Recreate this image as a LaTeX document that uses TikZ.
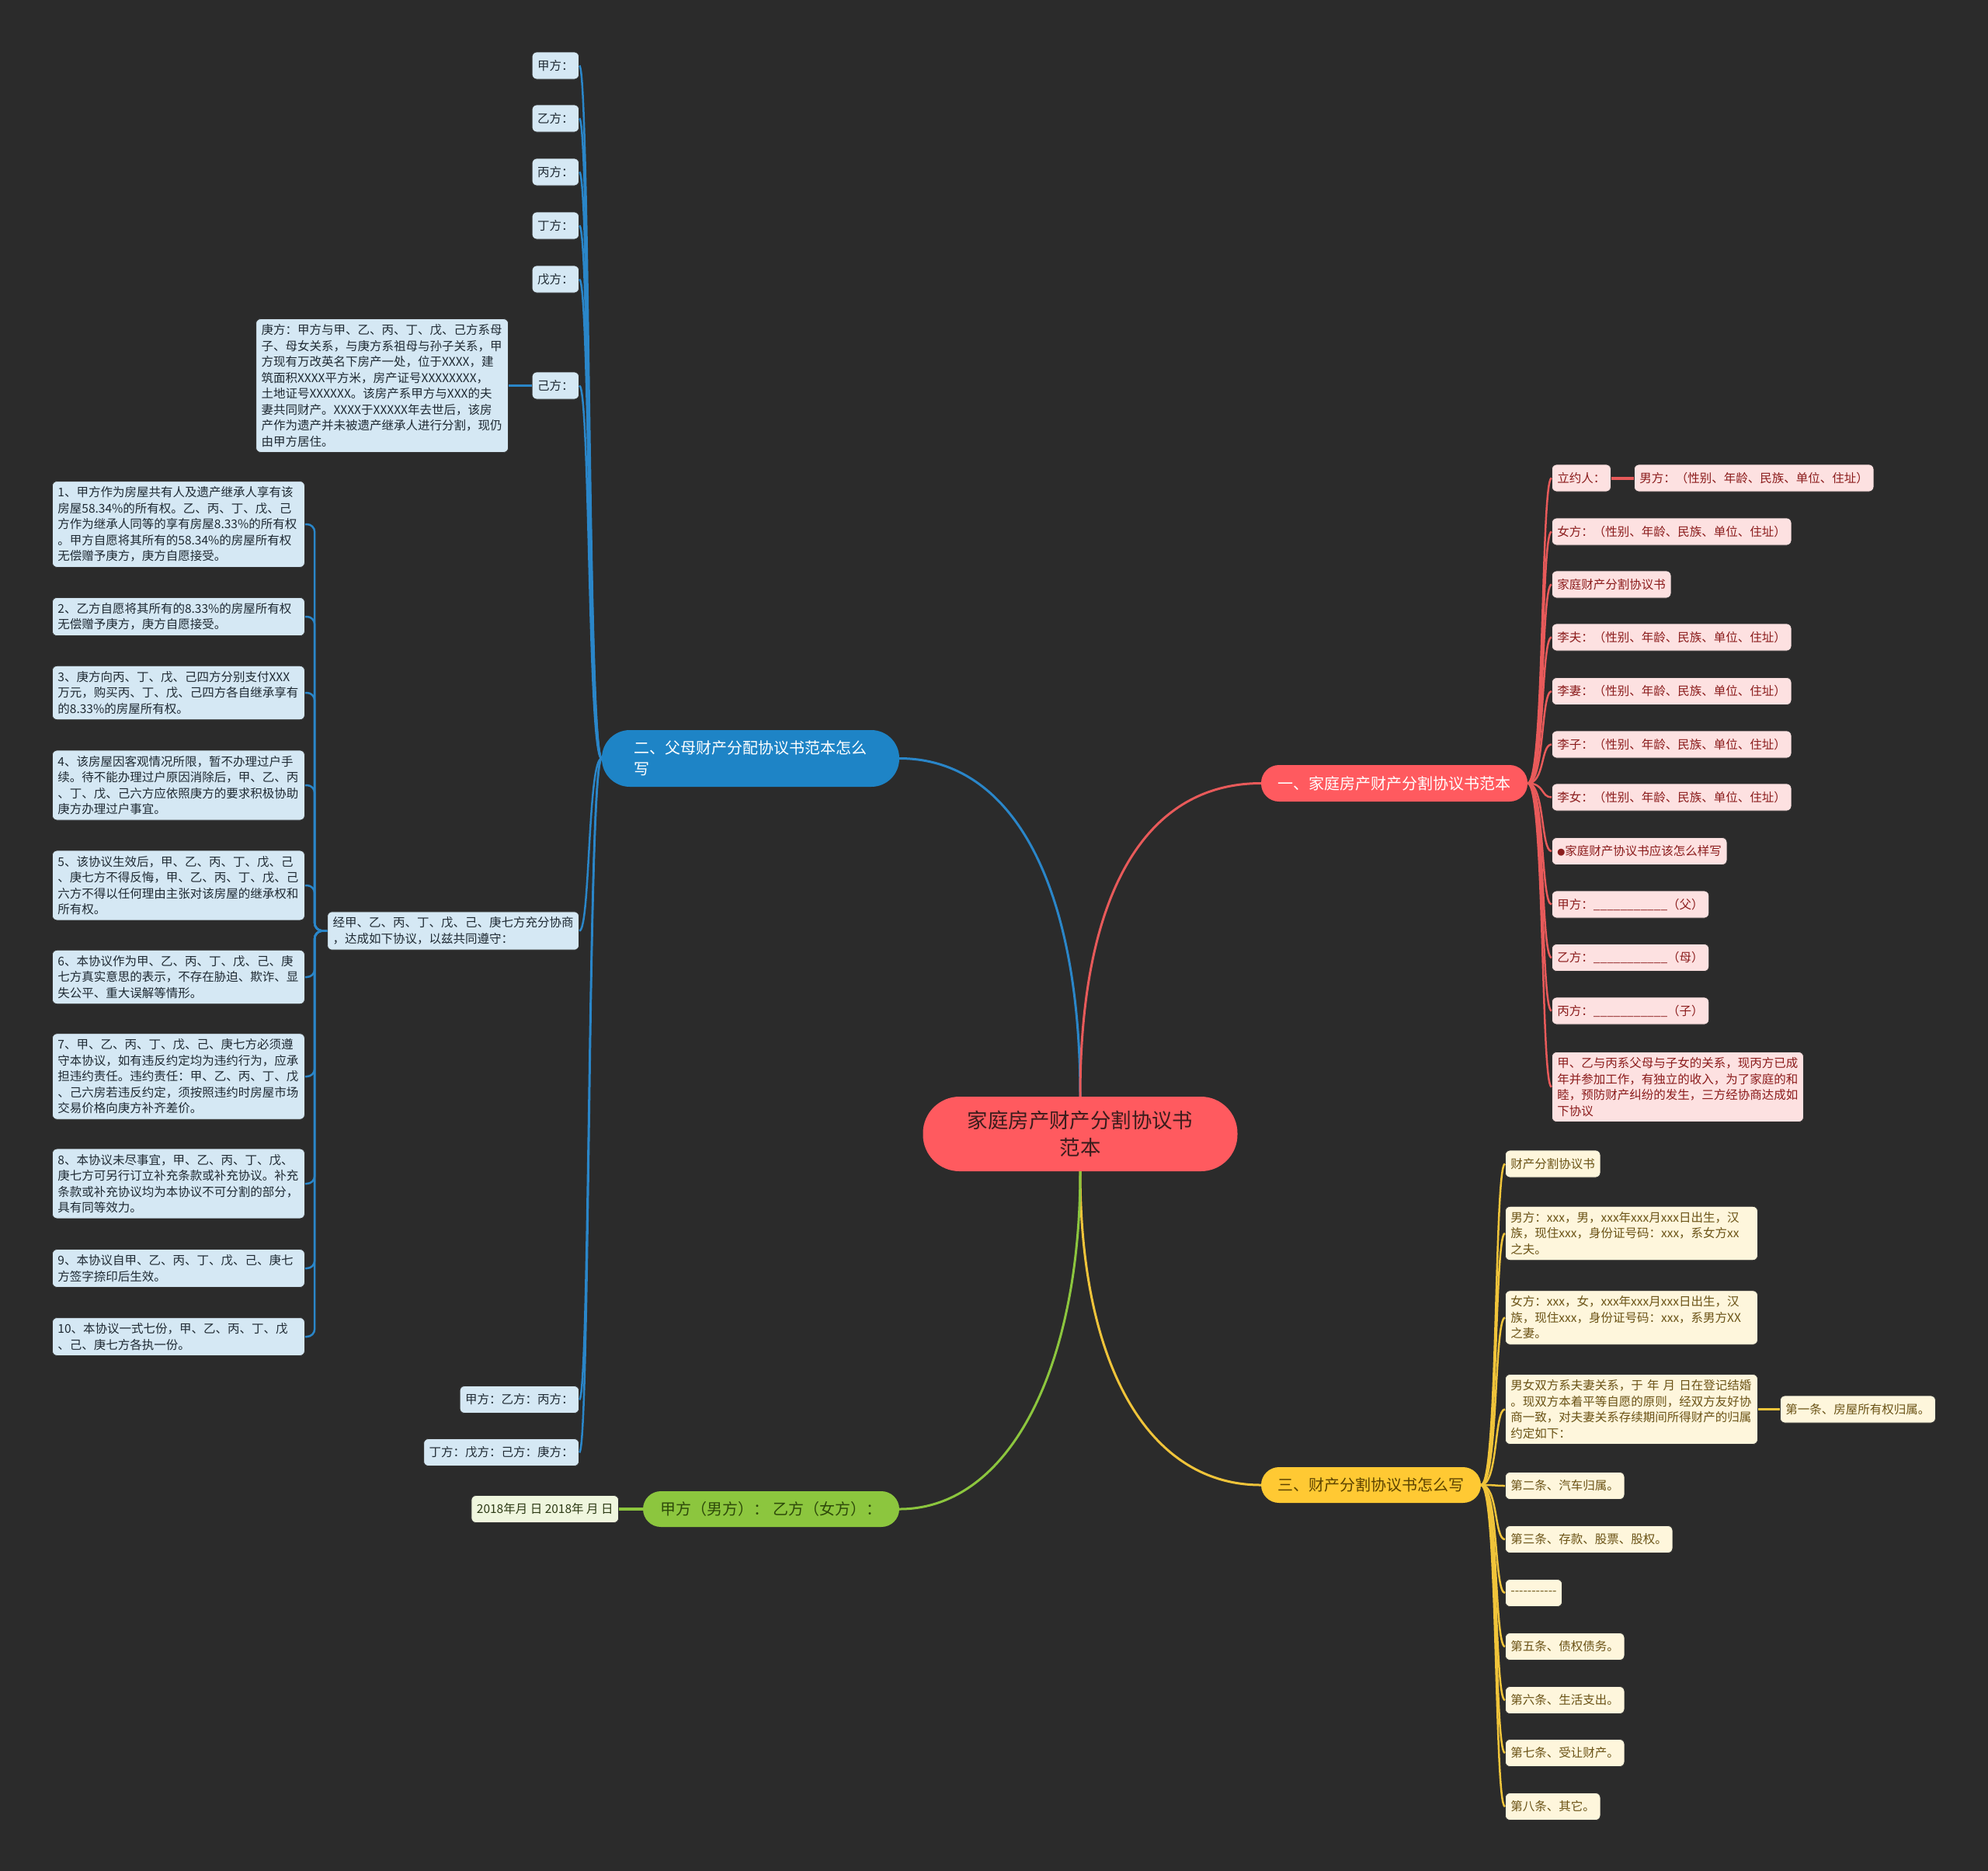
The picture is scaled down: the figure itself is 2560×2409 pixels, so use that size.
\documentclass[tikz,border=0pt]{standalone}
\usepackage{fontspec}
\setmainfont{Noto Sans CJK SC}
\definecolor{bgcol}{HTML}{2B2B2B}
\definecolor{rootfill}{HTML}{FF5A5F}
\definecolor{roottext}{HTML}{3A1C1C}
\definecolor{bluefill}{HTML}{1E84C6}
\definecolor{bluelinecol}{HTML}{2A86C9}
\definecolor{bleaffill}{HTML}{D5E8F4}
\definecolor{bleaftext}{HTML}{1F2A33}
\definecolor{redfill}{HTML}{FF5A5F}
\definecolor{redlinecol}{HTML}{E85A5A}
\definecolor{rleaffill}{HTML}{FDE1E1}
\definecolor{rleaftext}{HTML}{8B1C1C}
\definecolor{yellowfill}{HTML}{FFC933}
\definecolor{yellowtext}{HTML}{5C4300}
\definecolor{yellowlinecol}{HTML}{F0C43A}
\definecolor{yleaffill}{HTML}{FEF6DC}
\definecolor{yleaftext}{HTML}{6B5316}
\definecolor{greenfill}{HTML}{8CC63E}
\definecolor{greentext}{HTML}{2E4A0A}
\definecolor{gleaffill}{HTML}{EFF6DE}
\definecolor{gleaftext}{HTML}{2C3A14}
\begin{document}
\begin{tikzpicture}[x=1pt,y=-1pt,
        root/.style={rectangle, rounded corners=47pt, fill=rootfill, text=roottext, minimum width=405pt, minimum height=96pt, align=center, font=\fontsize{26.4}{35}\selectfont},
        branch/.style={rectangle, rounded corners=23pt, minimum height=46pt, align=center, font=\fontsize{20}{27}\selectfont},
        leaf/.style={rectangle, rounded corners=6pt, draw=black!80, line width=0.8pt, inner xsep=7pt, inner ysep=7pt, minimum height=35pt, align=left, font=\fontsize{15.5}{20.5}\selectfont},
        bleaf/.style={leaf, fill=bleaffill, text=bleaftext},
        rleaf/.style={leaf, fill=rleaffill, text=rleaftext},
        yleaf/.style={leaf, fill=yleaffill, text=yleaftext},
        gleaf/.style={leaf, fill=gleaffill, text=gleaftext},
        wide/.style={text width=311pt},
        mainlink/.style={line width=3pt},
        bluelink/.style={draw=bluelinecol, line width=2.5pt},
        redlink/.style={draw=redlinecol, line width=2.5pt},
        yellowlink/.style={draw=yellowlinecol, line width=2.5pt}
    ]
    \fill[bgcol] (0,0) rectangle (2560,2409);
    \useasboundingbox (0,0) rectangle (2560,2409);

    \node[root] (root) at (1391,1460) {家庭房产财产分割协议书\\范本};
    \node[branch, fill=bluefill, text=white, minimum width=383pt, minimum height=73pt, rounded corners=36pt, text width=300pt, align=left] (blue) at (966.5,976.5) {二、父母财产分配协议书范本怎么\\写};
    \node[branch, fill=redfill, text=white, minimum width=343pt, minimum height=47pt] (red) at (1795.5,1008.5) {一、家庭房产财产分割协议书范本};
    \node[branch, fill=yellowfill, text=yellowtext, minimum width=283pt] (yellow) at (1765.5,1912) {三、财产分割协议书怎么写};
    \node[branch, fill=greenfill, text=greentext, minimum width=330pt] (green) at (993,1943) {甲方（男方）： 乙方（女方）：};

    \node[bleaf, anchor=east] (b1) at (746,84.5) {甲方：};
    \node[bleaf, anchor=east] (b2) at (746,152.5) {乙方：};
    \node[bleaf, anchor=east] (b3) at (746,221.5) {丙方：};
    \node[bleaf, anchor=east] (b4) at (746,290.5) {丁方：};
    \node[bleaf, anchor=east] (b5) at (746,359.5) {戊方：};
    \node[bleaf, anchor=east] (b6) at (746,496.5) {己方：};
    \node[bleaf, wide, anchor=east] (bg) at (655,496.5) {庚方：甲方与甲、乙、丙、丁、戊、己方系母\\子、母女关系，与庚方系祖母与孙子关系，甲\\方现有万改英名下房产一处，位于XXXX，建\\筑面积XXXX平方米，房产证号XXXXXXXX，\\土地证号XXXXXX。该房产系甲方与XXX的夫\\妻共同财产。XXXX于XXXXX年去世后，该房\\产作为遗产并未被遗产继承人进行分割，现仍\\由甲方居住。};
    \node[bleaf, anchor=east] (bj) at (746,1198.5) {经甲、乙、丙、丁、戊、己、庚七方充分协商\\，达成如下协议，以兹共同遵守：};
    \node[bleaf, anchor=east] (bk1) at (746,1802) {甲方：乙方：丙方：};
    \node[bleaf, anchor=east] (bk2) at (746,1870) {丁方：戊方：己方：庚方：};

    \node[bleaf, wide, anchor=west] (n1) at (67,675) {1、甲方作为房屋共有人及遗产继承人享有该\\房屋58.34\%的所有权。乙、丙、丁、戊、己\\方作为继承人同等的享有房屋8.33\%的所有权\\。甲方自愿将其所有的58.34\%的房屋所有权\\无偿赠予庚方，庚方自愿接受。};
    \node[bleaf, wide, anchor=west] (n2) at (67,794) {2、乙方自愿将其所有的8.33\%的房屋所有权\\无偿赠予庚方，庚方自愿接受。};
    \node[bleaf, wide, anchor=west] (n3) at (67,892) {3、庚方向丙、丁、戊、己四方分别支付XXX\\万元，购买丙、丁、戊、己四方各自继承享有\\的8.33\%的房屋所有权。};
    \node[bleaf, wide, anchor=west] (n4) at (67,1011) {4、该房屋因客观情况所限，暂不办理过户手\\续。待不能办理过户原因消除后，甲、乙、丙\\、丁、戊、己六方应依照庚方的要求积极协助\\庚方办理过户事宜。};
    \node[bleaf, wide, anchor=west] (n5) at (67,1140) {5、该协议生效后，甲、乙、丙、丁、戊、己\\、庚七方不得反悔，甲、乙、丙、丁、戊、己\\六方不得以任何理由主张对该房屋的继承权和\\所有权。};
    \node[bleaf, wide, anchor=west] (n6) at (67,1258) {6、本协议作为甲、乙、丙、丁、戊、己、庚\\七方真实意思的表示，不存在胁迫、欺诈、显\\失公平、重大误解等情形。};
    \node[bleaf, wide, anchor=west] (n7) at (67,1386) {7、甲、乙、丙、丁、戊、己、庚七方必须遵\\守本协议，如有违反约定均为违约行为，应承\\担违约责任。违约责任：甲、乙、丙、丁、戊\\、己六房若违反约定，须按照违约时房屋市场\\交易价格向庚方补齐差价。};
    \node[bleaf, wide, anchor=west] (n8) at (67,1524) {8、本协议未尽事宜，甲、乙、丙、丁、戊、\\庚七方可另行订立补充条款或补充协议。补充\\条款或补充协议均为本协议不可分割的部分，\\具有同等效力。};
    \node[bleaf, wide, anchor=west] (n9) at (67,1633) {9、本协议自甲、乙、丙、丁、戊、己、庚七\\方签字捺印后生效。};
    \node[bleaf, wide, anchor=west] (n10) at (67,1721) {10、本协议一式七份，甲、乙、丙、丁、戊\\、己、庚七方各执一份。};

    \node[rleaf, anchor=west] (r1) at (1998,615.5) {立约人：};
    \node[rleaf, anchor=west] (r1b) at (2104,615.5) {男方：（性别、年龄、民族、单位、住址）};
    \node[rleaf, anchor=west] (r2) at (1998,684.5) {女方：（性别、年龄、民族、单位、住址）};
    \node[rleaf, anchor=west] (r3) at (1998,752.5) {家庭财产分割协议书};
    \node[rleaf, anchor=west] (r4) at (1998,820.5) {李夫：（性别、年龄、民族、单位、住址）};
    \node[rleaf, anchor=west] (r5) at (1998,890) {李妻：（性别、年龄、民族、单位、住址）};
    \node[rleaf, anchor=west] (r6) at (1998,958.5) {李子：（性别、年龄、民族、单位、住址）};
    \node[rleaf, anchor=west] (r7) at (1998,1026.5) {李女：（性别、年龄、民族、单位、住址）};
    \node[rleaf, anchor=west] (r8) at (1998,1096) {{\fontsize{10}{10}\selectfont ●}家庭财产协议书应该怎么样写};
    \node[rleaf, anchor=west] (r9) at (1998,1164.5) {甲方：\_\_\_\_\_\_\_\_\_\_\_（父）};
    \node[rleaf, anchor=west] (r10) at (1998,1233) {乙方：\_\_\_\_\_\_\_\_\_\_\_（母）};
    \node[rleaf, anchor=west] (r11) at (1998,1301.5) {丙方：\_\_\_\_\_\_\_\_\_\_\_（子）};
    \node[rleaf, anchor=west] (r12) at (1998,1399.5) {甲、乙与丙系父母与子女的关系，现丙方已成\\年并参加工作，有独立的收入，为了家庭的和\\睦，预防财产纠纷的发生，三方经协商达成如\\下协议};

    \node[yleaf, anchor=west] (y1) at (1938,1498.5) {财产分割协议书};
    \node[yleaf, wide, anchor=west] (y2) at (1938,1588) {男方：xxx，男，xxx年xxx月xxx日出生，汉\\族，现住xxx，身份证号码：xxx，系女方xx\\之夫。};
    \node[yleaf, wide, anchor=west] (y3) at (1938,1696.5) {女方：xxx，女，xxx年xxx月xxx日出生，汉\\族，现住xxx，身份证号码：xxx，系男方XX\\之妻。};
    \node[yleaf, wide, anchor=west] (y4) at (1938,1814.5) {男女双方系夫妻关系，于 年 月 日在登记结婚\\。现双方本着平等自愿的原则，经双方友好协\\商一致，对夫妻关系存续期间所得财产的归属\\约定如下：};
    \node[yleaf, anchor=west] (y4b) at (2292,1814.5) {第一条、房屋所有权归属。};
    \node[yleaf, anchor=west] (y5) at (1938,1913) {第二条、汽车归属。};
    \node[yleaf, anchor=west] (y6) at (1938,1982) {第三条、存款、股票、股权。};
    \node[yleaf, anchor=west] (y7) at (1938,2051) {{-}{-}{-}{-}{-}{-}{-}{-}{-}{-}{-}};
    \node[yleaf, anchor=west] (y8) at (1938,2120) {第五条、债权债务。};
    \node[yleaf, anchor=west] (y9) at (1938,2189) {第六条、生活支出。};
    \node[yleaf, anchor=west] (y10) at (1938,2257) {第七条、受让财产。};
    \node[yleaf, anchor=west] (y11) at (1938,2326) {第八条、其它。};

    \node[gleaf, anchor=east] (g1) at (797,1943) {2018年月 日 2018年 月 日};

    \draw[mainlink, draw=bluelinecol] (root.north) .. controls (1391,1143) and (1306,976.5) .. (blue.east);
    \draw[mainlink, draw=redlinecol] (root.north) .. controls (1391,1150) and (1475,1008.5) .. (red.west);
    \draw[mainlink, draw=yellowlinecol] (root.south) .. controls (1391,1760) and (1480,1912) .. (yellow.west);
    \draw[mainlink, draw=greenfill] (root.south) .. controls (1391,1760) and (1300,1943) .. (green.east);

    \foreach \n in {b1,b2,b3,b4,b5,b6,bj,bk1,bk2}
        \draw[bluelink] (blue.west) .. controls +(-18,0) and +(14,0) .. (\n.east);
    \draw[bluelink] (b6.west) -- (bg.east);
    \foreach \n in {n1,n2,n3,n4,n5,n6,n7,n8,n9,n10}
        \draw[bluelink, rounded corners=10pt] (bj.west) -- ++(-16,0) |- (\n.east);

    \foreach \n in {r1,r2,r3,r4,r5,r6,r7,r8,r9,r10,r11,r12}
        \draw[redlink] (red.east) .. controls +(22,0) and +(-14,0) .. (\n.west);
    \draw[redlink, line width=4pt] (r1.east) -- (r1b.west);

    \foreach \n in {y1,y2,y3,y4,y5,y6,y7,y8,y9,y10,y11}
        \draw[yellowlink] (yellow.east) .. controls +(22,0) and +(-14,0) .. (\n.west);
    \draw[yellowlink, line width=3.5pt] (y4.east) -- (y4b.west);

    \draw[draw=greenfill, line width=3.5pt] (green.west) -- (g1.east);
\end{tikzpicture}
\end{document}
